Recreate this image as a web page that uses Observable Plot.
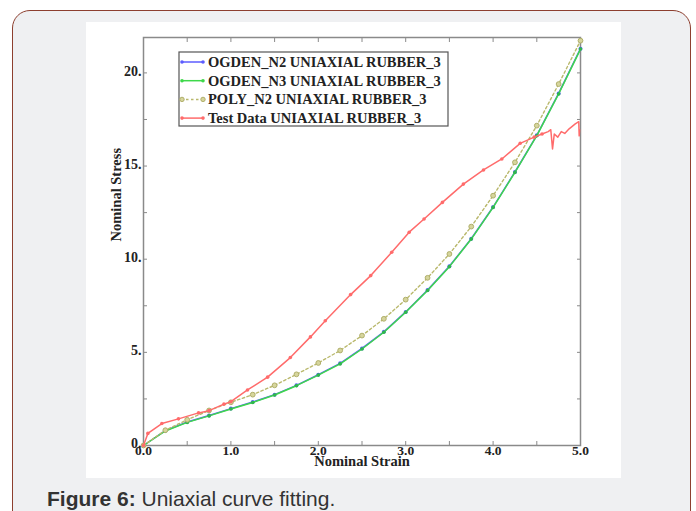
<!DOCTYPE html>
<html><head><meta charset="utf-8">
<script src="https://cdn.jsdelivr.net/npm/d3@7"></script>
<script src="https://cdn.jsdelivr.net/npm/@observablehq/plot@0.6"></script>
<style>
html,body{margin:0;padding:0;background:#fff;width:696px;height:511px;overflow:hidden;}
#card{position:absolute;left:12px;top:10px;width:679px;height:560px;background:#eff0f2;border:1.5px solid #8d3f2f;border-radius:18px;box-sizing:border-box;}
#panel{position:absolute;left:86px;top:22px;width:535px;height:456px;background:#fff;}
#caption{position:absolute;left:47px;top:488px;font:21px/21px "Liberation Sans",Arial,sans-serif;color:#333;white-space:nowrap;}
</style></head><body>
<div id="card"></div>
<div id="panel"></div>
<div id="caption"><b>Figure 6:</b> Uniaxial curve fitting.</div>
<script>
// ---- data ----
const strainFit = [0,0.25,0.5,0.75,1.0,1.25,1.5,1.75,2.0,2.25,2.5,2.75,3.0,3.25,3.5,3.75,4.0,4.25,4.5,4.75,5.0];
const ogdenN2 = [0,0.80,1.26,1.61,1.98,2.33,2.73,3.23,3.80,4.41,5.21,6.10,7.17,8.34,9.62,11.10,12.80,14.68,16.65,18.90,21.30];
const ogdenN3 = [0,0.78,1.24,1.59,1.96,2.31,2.71,3.21,3.78,4.38,5.18,6.08,7.15,8.32,9.60,11.08,12.78,14.66,16.63,18.87,21.28];
const polyN2  = [0,0.82,1.38,1.88,2.32,2.73,3.23,3.82,4.43,5.10,5.90,6.80,7.83,9.00,10.28,11.75,13.41,15.20,17.17,19.40,21.73];
const testStrain = [0,0.05,0.21,0.40,0.63,0.75,0.92,1.00,1.19,1.42,1.68,1.91,2.08,2.37,2.60,2.84,3.04,3.21,3.42,3.66,3.89,4.10,4.31,4.47,4.56,4.63,4.66,4.68,4.70,4.74,4.78,4.82,4.87,4.94,4.98,4.985,4.99];
const testStress = [0,0.65,1.18,1.43,1.75,1.87,2.22,2.35,2.98,3.67,4.72,5.83,6.70,8.10,9.12,10.37,11.45,12.16,13.05,14.03,14.79,15.38,16.22,16.55,16.72,16.85,16.95,15.92,16.72,16.55,16.85,16.75,17.00,17.26,17.38,16.62,16.95];
const seriesNames = ["OGDEN_N2 UNIAXIAL RUBBER_3","OGDEN_N3 UNIAXIAL RUBBER_3","POLY_N2 UNIAXIAL RUBBER_3","Test Data UNIAXIAL RUBBER_3"];
const xTicks = [0,1,2,3,4,5];
const xTickLabels = ["0.0","1.0","2.0","3.0","4.0","5.0"];
const yTicks = [0,5,10,15,20];
const yTickLabels = ["0.","5.","10.","15.","20."];
const xMinor = [0,0.5,1,1.5,2,2.5,3,3.5,4,4.5,5];
const yMinor = [0,2.5,5,7.5,10,12.5,15,17.5,20];

const colors = ["#5c5cff","#3ed84a","#b9b86c","#ff6b6b"];
const serif = "'Liberation Serif','Times New Roman',serif";

const fitRows = strainFit.map((s,i)=>({s, n2:ogdenN2[i], n3:ogdenN3[i], p:polyN2[i]}));
const testRows = testStrain.map((s,i)=>({s, v:testStress[i]}));

const tickOpts = {tickFormat:()=>"", label:null, stroke:"#8a8a8a", tickSize:4};
const txt = {fontWeight:"bold", fontSize:14, fill:"#222", fontFamily:serif};

const chart = Plot.plot({
  width:535, height:456,
  marginLeft:57, marginRight:41, marginTop:15, marginBottom:33,
  x:{domain:[0,5]}, y:{domain:[0,21.9]},
  style:{background:"transparent", fontFamily:serif},
  marks:[
    Plot.axisX(xMinor, {...tickOpts, anchor:"bottom", dy:-4}),
    Plot.axisX(xMinor, {...tickOpts, anchor:"top", dy:4}),
    Plot.axisY(yMinor, {...tickOpts, anchor:"left", dx:4}),
    Plot.axisY(yMinor, {...tickOpts, anchor:"right", dx:-4}),
    Plot.axisX(xTicks, {anchor:"bottom", tickSize:0, tickPadding:0, label:null, tickFormat:d=>xTickLabels[xTicks.indexOf(d)], ...txt, fontSize:13.5}),
    Plot.axisY(yTicks, {anchor:"left", tickSize:0, tickPadding:2, dy:-1.5, label:null, tickFormat:d=>yTickLabels[yTicks.indexOf(d)], ...txt}),
    Plot.frame({stroke:"#8a8a8a", strokeWidth:1.5}),
    Plot.text(["Nominal Strain"], {frameAnchor:"bottom", dy:20, ...txt, fontSize:14.5}),
    Plot.text(["Nominal Stress"], {frameAnchor:"left", dx:-27, rotate:-90, ...txt, fontSize:14.5}),
    Plot.line(fitRows, {x:"s", y:"n2", stroke:colors[0], strokeWidth:1.5}),
    Plot.dot(fitRows, {x:"s", y:"n2", r:2, fill:colors[0]}),
    Plot.line(fitRows, {x:"s", y:"n3", stroke:colors[1], strokeWidth:1.5}),
    Plot.dot(fitRows, {x:"s", y:"n3", r:1.8, fill:"#2fb84a"}),
    Plot.line(fitRows, {x:"s", y:"p", stroke:colors[2], strokeWidth:1.4, strokeDasharray:"2.5,2.5"}),
    Plot.dot(fitRows, {x:"s", y:"p", r:2.4, fill:"#d6d59c", stroke:"#b0af6a", strokeWidth:1}),
    Plot.line(testRows, {x:"s", y:"v", stroke:colors[3], strokeWidth:1.5}),
    Plot.dot(testRows, {filter:d=>d.s<4.6, x:"s", y:"v", r:1.8, fill:colors[3]})
  ]
});
chart.style.position = "absolute";
chart.style.left = "86px";
chart.style.top = "22px";
document.body.appendChild(chart);

// legend (layout only)
const svg = d3.select(chart);
const lg = svg.append("g").attr("text-anchor","start");
lg.append("rect").attr("x",93).attr("y",30).attr("width",269).attr("height",74)
  .attr("fill","#fff").attr("stroke","#555").attr("stroke-width",1.2);
const dash = [null,null,"2.5,2.5",null];
seriesNames.forEach((name,i)=>{
  const y = 40 + i*18.7;
  lg.append("line").attr("x1",95).attr("x2",118).attr("y1",y).attr("y2",y)
    .attr("stroke",colors[i]).attr("stroke-width",1.5).attr("stroke-dasharray",dash[i]);
  [96,117].forEach(cx=>lg.append("circle").attr("cx",cx).attr("cy",y).attr("r",i===2?2.2:1.8)
    .attr("fill",i===2?"#d6d59c":colors[i]).attr("stroke",i===2?"#b0af6a":"none"));
  lg.append("text").attr("x",122).attr("y",y).attr("dy","0.35em")
    .attr("font-family",serif).attr("font-weight","bold").attr("font-size",14.5).attr("fill","#222")
    .text(name);
});
</script>
</body></html>
